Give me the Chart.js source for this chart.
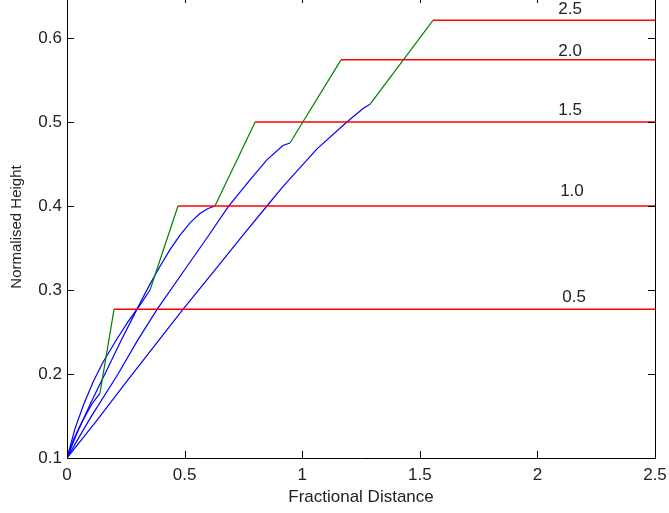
<!DOCTYPE html>
<html>
<head>
<meta charset="utf-8">
<script src="https://cdn.jsdelivr.net/npm/chart.js@4.4.0/dist/chart.umd.min.js"></script>
<style>
  html, body { margin: 0; padding: 0; background: #fff; overflow: hidden; }
  #chart { position: absolute; left: 0; top: -10px; }
</style>
</head>
<body>
<canvas id="chart" width="669" height="523"></canvas>
<script>
// axes
const xTicks = [0, 0.5, 1, 1.5, 2, 2.5];
const xTickLabels = ["0", "0.5", "1", "1.5", "2", "2.5"];
const yTicks = [0.1, 0.2, 0.3, 0.4, 0.5, 0.6];
const yTickLabels = ["0.1", "0.2", "0.3", "0.4", "0.5", "0.6"];

// one curve per level: blue rise, green rise, red plateau
const levelLabels = ["0.5", "1.0", "1.5", "2.0", "2.5"];
const plateauY = [0.277, 0.4, 0.5, 0.574, 0.621];
const plateauStartX = [0.2, 0.472, 0.8, 1.165, 1.556];
const labelX = [2.156, 2.147, 2.139, 2.139, 2.139];
const labelY = [0.291, 0.417, 0.514, 0.584, 0.634];

const blue05X = [0, 0.026, 0.055, 0.085, 0.11, 0.14];
const blue05Y = [0.1, 0.121, 0.138, 0.154, 0.166, 0.177];

const blue10X = [0, 0.034, 0.07, 0.11, 0.153, 0.213, 0.259, 0.31, 0.353];
const blue10Y = [0.1, 0.135, 0.163, 0.19, 0.214, 0.242, 0.262, 0.282, 0.3];

const blue15X = [0, 0.04, 0.1, 0.17, 0.23, 0.281, 0.319, 0.353, 0.395, 0.438, 0.48, 0.523, 0.565, 0.6, 0.629];
const blue15Y = [0.1, 0.128, 0.165, 0.205, 0.24, 0.268, 0.289, 0.307, 0.328, 0.348, 0.365, 0.38, 0.391, 0.397, 0.4];

const blue20X = [0, 0.1, 0.217, 0.3, 0.383, 0.51, 0.6, 0.685, 0.778, 0.85, 0.918, 0.948];
const blue20Y = [0.1, 0.148, 0.2, 0.24, 0.277, 0.328, 0.364, 0.399, 0.431, 0.455, 0.472, 0.475];

const blue25X = [0, 0.128, 0.259, 0.493, 0.65, 0.75, 0.85, 0.918, 1.063, 1.19, 1.259, 1.288];
const blue25Y = [0.1, 0.145, 0.193, 0.277, 0.331, 0.366, 0.4, 0.423, 0.468, 0.5, 0.516, 0.521];

const blueX = [blue05X, blue10X, blue15X, blue20X, blue25X];
const blueY = [blue05Y, blue10Y, blue15Y, blue20Y, blue25Y];

const FONT = '"Liberation Sans", Arial, sans-serif';
const TEXT = "#222";

let datasets = [];
for (let i = 0; i < levelLabels.length; i++) {
	const bx = blueX[i];
	const by = blueY[i];
	const gx = bx[bx.length - 1];
	const gy = by[by.length - 1];

	datasets.push({
		data: bx.map((x, j) => ({ x: x, y: by[j] })),
		borderColor: "#0000ff",
		borderWidth: 1.2,
		order: 2,
	});
	datasets.push({
		data: [
			{ x: gx, y: gy },
			{ x: plateauStartX[i], y: plateauY[i] },
		],
		borderColor: "#008000",
		borderWidth: 1.2,
		order: 1,
	});
	datasets.push({
		data: [
			{ x: plateauStartX[i], y: plateauY[i] },
			{ x: xTicks[xTicks.length - 1], y: plateauY[i] },
		],
		borderColor: "#ff0000",
		borderWidth: 1.5,
		order: 0,
	});
}

// box round the plot, inward ticks, and the level labels
const matlabAxes = {
	id: "matlabAxes",
	afterDatasetsDraw(chart) {
		const { ctx, chartArea, scales } = chart;
		const { left, right, top, bottom } = chartArea;
		const tick = 7;

		ctx.save();
		ctx.strokeStyle = "#000";
		ctx.lineWidth = 1;
		ctx.beginPath();
		ctx.moveTo(left, top + 0.5);
		ctx.lineTo(right + 0.5, top + 0.5);
		ctx.lineTo(right + 0.5, bottom);
		ctx.stroke();

		ctx.beginPath();
		xTicks.forEach((v) => {
			const px = Math.round(scales.x.getPixelForValue(v)) + 0.5;
			ctx.moveTo(px, bottom);
			ctx.lineTo(px, bottom - tick);
			ctx.moveTo(px, top);
			ctx.lineTo(px, top + tick);
		});
		yTicks.forEach((v) => {
			const py = Math.round(scales.y.getPixelForValue(v)) + 0.5;
			ctx.moveTo(left, py);
			ctx.lineTo(left + tick, py);
			ctx.moveTo(right, py);
			ctx.lineTo(right - tick, py);
		});
		ctx.stroke();

		ctx.fillStyle = TEXT;
		ctx.font = `17px ${FONT}`;
		ctx.textAlign = "center";
		ctx.textBaseline = "middle";
		for (let i = 0; i < levelLabels.length; i++) {
			ctx.fillText(
				levelLabels[i],
				scales.x.getPixelForValue(labelX[i]),
				scales.y.getPixelForValue(labelY[i])
			);
		}
		ctx.restore();
	},
};

new Chart(document.getElementById("chart"), {
	type: "line",
	data: { datasets: datasets },
	options: {
		responsive: false,
		animation: false,
		events: [],
		layout: { padding: { left: 0, right: 14, top: 6, bottom: 0 } },
		plugins: {
			legend: { display: false },
			tooltip: { enabled: false },
		},
		elements: {
			point: { radius: 0 },
			line: { tension: 0, fill: false },
		},
		scales: {
			x: {
				type: "linear",
				min: 0,
				max: 2.5,
				afterBuildTicks: (s) => {
					s.ticks = xTicks.map((v) => ({ value: v }));
				},
				afterFit: (s) => {
					s.height = 55;
					s.paddingLeft = 0;
					s.paddingRight = 0;
				},
				grid: { drawOnChartArea: false, drawTicks: false },
				border: { display: true, color: "#000", width: 1 },
				ticks: {
					color: TEXT,
					font: { family: FONT, size: 17 },
					padding: 7,
					maxRotation: 0,
					autoSkip: false,
					callback: (v, i) => xTickLabels[i],
				},
				title: {
					display: true,
					text: "Fractional Distance",
					color: TEXT,
					font: { family: FONT, size: 17, lineHeight: 1.2 },
					padding: { top: 5, bottom: 5 },
				},
			},
			y: {
				type: "linear",
				min: 0.1,
				max: 0.65,
				afterBuildTicks: (s) => {
					s.ticks = yTicks.map((v) => ({ value: v }));
				},
				afterFit: (s) => {
					s.width = 67;
					s.paddingTop = 0;
					s.paddingBottom = 0;
				},
				grid: { drawOnChartArea: false, drawTicks: false },
				border: { display: true, color: "#000", width: 1 },
				ticks: {
					color: TEXT,
					font: { family: FONT, size: 17 },
					padding: 5,
					autoSkip: false,
					callback: (v, i) => yTickLabels[i],
				},
				title: {
					display: true,
					text: "Normalised Height",
					color: TEXT,
					font: { family: FONT, size: 15, lineHeight: 1.2 },
					padding: { top: 8, bottom: 8 },
				},
			},
		},
	},
	plugins: [matlabAxes],
});
</script>
</body>
</html>
